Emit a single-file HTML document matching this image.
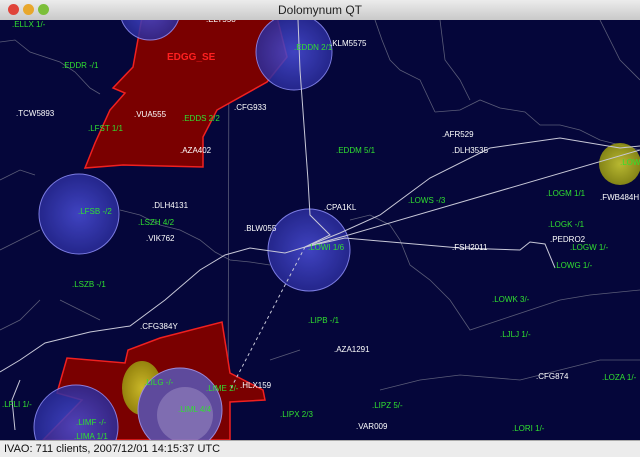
<!DOCTYPE html>
<html><head><meta charset="utf-8"><style>
html,body{margin:0;padding:0;width:640px;height:457px;overflow:hidden;font-family:"Liberation Sans",sans-serif;}
#title{position:absolute;left:0;top:0;width:640px;height:20px;background:linear-gradient(#ececec,#c9c9c9);border-bottom:1px solid #777;text-align:center;font-size:12px;line-height:20px;color:#222;}
.btn{position:absolute;top:4px;width:11px;height:11px;border-radius:50%;}
#status{position:absolute;left:0;top:440px;width:640px;height:17px;background:#ececec;border-top:1px solid #aaa;font-size:11px;line-height:17px;color:#111;padding-left:4px;box-sizing:border-box;}
svg{position:absolute;left:0;top:20px;}
</style></head><body>
<div id="title">
<div class="btn" style="left:8px;background:#e0443a"></div>
<div class="btn" style="left:23px;background:#e8a72c"></div>
<div class="btn" style="left:38px;background:#7cbf3a"></div>
<span>Dolomynum QT</span></div>
<svg id="map" width="640" height="420" viewBox="0 20 640 420">
<defs>
<radialGradient id="bg" cx="50%" cy="50%" r="50%"><stop offset="0" stop-color="#4a4ed8"/><stop offset="1" stop-color="#2a2c9a"/></radialGradient>
<radialGradient id="yg" cx="50%" cy="50%" r="50%"><stop offset="0" stop-color="#d8d830"/><stop offset="1" stop-color="#9a9a10"/></radialGradient>
</defs>
<rect x="0" y="20" width="640" height="420" fill="#05063a"/>
<g fill="none" stroke="#5a5c78" stroke-width="0.8">
<path d="M0,42 L15,40 L30,52 L60,62 L75,72 L90,88 L100,94"/>
<path d="M0,180 L20,170 L35,175 M229,20 L228,440 M185,20 L188,165"/>
<path d="M375,20 L382,40 L390,60 L400,70 L420,80 L435,112"/>
<path d="M435,112 L460,110 L480,100 L500,108 L525,112 L540,125 L560,125 L580,130 L600,140 L640,150"/>
<path d="M0,250 L20,240 L40,230 M120,210 L140,215 L160,225 L180,230 L200,240 L215,252 L230,260 L250,262 L270,265"/>
<path d="M350,220 L370,215 L390,225 L400,240 L410,265 L430,280 L450,300 L470,330 L500,320 L530,310 L560,300 L590,295 L640,290"/>
<path d="M0,330 L20,320 L40,300 M60,300 L80,310 L100,320 M270,360 L300,350 M380,390 L420,380 L460,375 L520,380 L560,370 L600,360 L640,360"/>
<path d="M440,20 L445,60 L460,80 L470,100 M600,20 L620,60 L640,80"/>
</g>
<g>
<polygon points="142,17 277,17 287,57 267,82 217,110 203,137 203,167 123,165 85,168 95,143 110,110 125,93 113,88 133,67" fill="#7a0000" stroke="#f02020" stroke-width="1.5"/>
</g>
<g>
<polygon points="222,322 230,373 263,390 265,400 230,402 230,440 43,440 82,400 57,393 67,358 125,363 128,350 160,338" fill="#7a0000" stroke="#f02020" stroke-width="1.5"/>
</g>
<g opacity="0.85">
<circle cx="150" cy="10" r="30" fill="url(#bg)" stroke="#9090ff"/>
<circle cx="294" cy="52" r="38" fill="url(#bg)" stroke="#9090ff"/>
<circle cx="79" cy="214" r="40" fill="url(#bg)" stroke="#9090ff"/>
<circle cx="309" cy="250" r="41" fill="url(#bg)" stroke="#9090ff"/>
<circle cx="76" cy="427" r="42" fill="url(#bg)" stroke="#9090ff"/>
<ellipse cx="142" cy="388" rx="20" ry="27" fill="url(#yg)"/>
<circle cx="180" cy="410" r="42" fill="#5a58b8" stroke="#a0a0ff"/>
<circle cx="185" cy="415" r="28" fill="#8080d0"/>
<circle cx="620" cy="164" r="21" fill="url(#yg)"/>
</g>
<g fill="none" stroke="#c8c8d8" stroke-width="1">
<path d="M0,372 L20,360 L45,343 L90,332 L130,326 L165,300 L200,270 L225,255 L250,248 L285,253 L305,247 L340,233 L380,215 L430,178 L490,148 L560,138 L620,148 L640,146"/>
<path d="M305,247 L345,236 L640,150"/>
<path d="M305,247 L345,238 L460,248 L520,250 L530,242 L545,244 L555,268"/>
<path d="M305,247 L330,235 L320,225 L310,215 L308,180 L300,70 L298,20"/>
<path d="M15,430 L12,400 L20,380" />
<path d="M305,247 L230,390" stroke-dasharray="3,3"/>
</g>
<g id="labels" font-size="8"></g>
</svg>
<div id="status">IVAO: 711 clients, 2007/12/01 14:15:37 UTC</div>
<script>
const names=["ELLX 1/-","EDDR -/1","TCW5893","LFST 1/1","VUA555","EDDS 2/2","CFG933","AZA402","EDDN 2/1","KLM5575","EDDM 5/1","AFR529","DLH3535","LOWS -/3","LOGM 1/1","FWB484H","LFSB -/2","DLH4131","LSZH 4/2","VIK762","BLW055","CPA1KL","LOWI 1/6","FSH2011","LOGK -/1","PEDRO2","LOGW 1/-","LOWG 1/-","LSZB -/1","LOWK 3/-","LIPB -/1","CFG384Y","AZA1291","LJLJ 1/-","CFG874","LOZA 1/-","LILG -/-","LIME 2/-","HLX159","LFLI 1/-","LIML 4/4","LIPX 2/3","LIPZ 5/-","VAR009","LORI 1/-","LIMF -/-","LIMA 1/1","EDGG_SE","ELT558","LOWL"];
const lonX=[12,62,16,88,134,182,234,180,294,330,336,442,452,408,546,600,78,152,138,146,244,324,308,452,548,550,570,554,72,492,308,140,334,500,536,602,144,206,240,2,178,280,372,356,512,76,74,167,206,620];
const latY=[27,68,116,131,117,121,110,153,50,46,153,137,153,203,196,200,214,208,225,241,231,210,250,250,227,242,250,268,287,302,323,329,352,337,379,380,385,391,388,407,412,417,408,429,431,425,439,60,22,165];
const kind=["a","a","p","a","p","a","p","p","a","p","a","p","p","a","a","p","a","p","a","p","p","p","a","p","a","p","a","a","a","a","a","p","p","a","p","a","a","a","p","a","a","a","a","p","a","a","a","s","p","a"];
const g=document.getElementById('labels');
for(let i=0;i<names.length;i++){
 const t=document.createElementNS('http://www.w3.org/2000/svg','text');
 t.setAttribute('x',lonX[i]);t.setAttribute('y',latY[i]);
 t.setAttribute('fill',kind[i]==='a'?'#30e030':kind[i]==='s'?'#ff2020':'#ffffff');
 if(kind[i]==='s'){t.setAttribute('font-size','10');t.setAttribute('font-weight','bold');}
 t.textContent=kind[i]==='s'?names[i]:'.'+names[i];
 
 
 g.appendChild(t);
}
</script>
</body></html>
